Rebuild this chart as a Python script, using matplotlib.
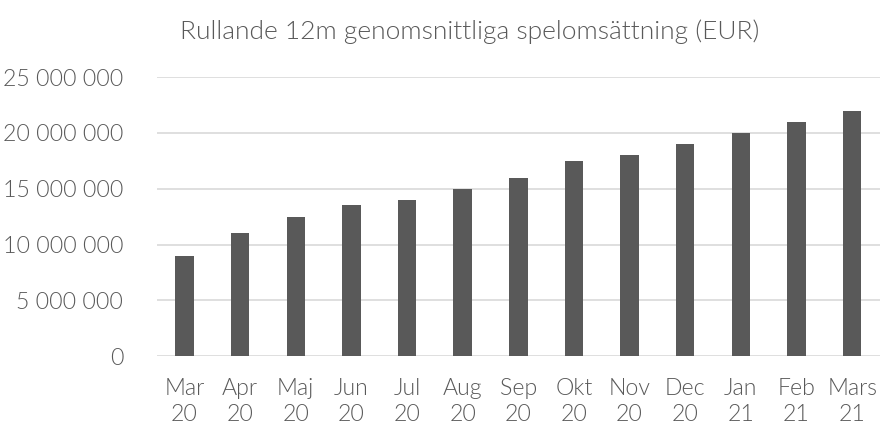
import matplotlib
matplotlib.use("Agg")
import matplotlib.pyplot as plt
from matplotlib.ticker import FuncFormatter

months = ["Mar", "Apr", "Maj", "Jun", "Jul", "Aug", "Sep", "Okt", "Nov", "Dec", "Jan", "Feb", "Mars"]
years = ["20", "20", "20", "20", "20", "20", "20", "20", "20", "20", "21", "21", "21"]
turnover = [9000000, 11000000, 12500000, 13500000, 14000000, 15000000, 16000000,
            17500000, 18000000, 19000000, 20000000, 21000000, 22000000]
yticks = [0, 5000000, 10000000, 15000000, 20000000, 25000000]

plt.rcParams["font.family"] = ["Lato", "DejaVu Sans"]
text_color = "#595959"


def fmt(v, pos):
    return f"{int(v):,}".replace(",", " ")


def main():
    fig = plt.figure(figsize=(8.8, 4.26), dpi=100)
    ax = fig.add_axes([0.178, 0.164, 0.822, 0.655])

    x = range(len(months))
    ax.bar(x, turnover, width=0.33, color="#595959", zorder=3)

    ax.set_xlim(-0.5, len(months) - 0.5)
    ax.set_ylim(0, 25000000)
    ax.set_yticks(yticks)
    ax.yaxis.set_major_formatter(FuncFormatter(fmt))
    ax.set_xticks(list(x))
    ax.set_xticklabels([f"{m}\n{y}" for m, y in zip(months, years)],
                       linespacing=1.3)

    ax.grid(axis="y", color="#d9d9d9", linewidth=1.2, zorder=0)
    for s in ax.spines.values():
        s.set_visible(False)
    ax.tick_params(axis="both", length=0, labelsize=16.7, labelcolor=text_color)
    ax.tick_params(axis="y", pad=24)
    ax.tick_params(axis="x", pad=16)
    for lab in ax.get_xticklabels() + ax.get_yticklabels():
        lab.set_fontweight(300)

    fig.text(0.534, 0.925, "Rullande 12m genomsnittliga spelomsättning (EUR)",
             ha="center", va="center", fontsize=19, color=text_color,
             fontweight=300)

    fig.savefig("out.png", dpi=100)


if __name__ == "__main__":
    main()
